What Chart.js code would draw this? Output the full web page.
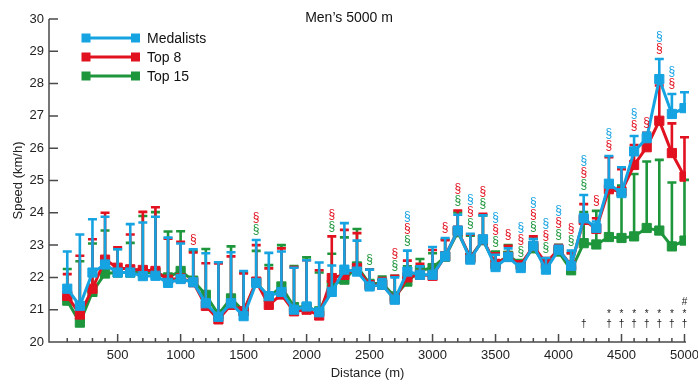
<!DOCTYPE html>
<html>
<head>
<meta charset="utf-8">
<title>Men's 5000 m</title>
<script src="https://cdn.jsdelivr.net/npm/chart.js@4"></script>
<style>
  html, body { margin: 0; padding: 0; background: #fff; }
</style>
</head>
<body>
<canvas id="speedChart" width="698" height="384"></canvas>
<script>
// split distances (m)
const distances = [100, 200, 300, 400, 500, 600, 700, 800, 900, 1000,
  1100, 1200, 1300, 1400, 1500, 1600, 1700, 1800, 1900, 2000,
  2100, 2200, 2300, 2400, 2500, 2600, 2700, 2800, 2900, 3000,
  3100, 3200, 3300, 3400, 3500, 3600, 3700, 3800, 3900, 4000,
  4100, 4200, 4300, 4400, 4500, 4600, 4700, 4800, 4900, 5000];

// mean speed (km/h) and mean + SD (top of the error bar)
const medalistsMean = [21.65, 21.12, 22.15, 22.4, 22.15, 22.15, 22.04, 22.05, 21.83, 21.95,
  21.85, 21.2, 20.78, 21.2, 20.8, 21.83, 21.42, 21.55, 21.0, 21.1,
  20.92, 21.55, 22.24, 22.18, 21.72, 21.77, 21.31, 22.18, 22.08, 22.08,
  22.65, 23.45, 22.55, 23.18, 22.32, 22.63, 22.29, 22.98, 22.24, 22.85,
  22.36, 23.83, 23.53, 24.9, 24.61, 25.9, 26.31, 28.14, 27.06, 27.24];
const medalistsUpper = [22.8, 23.33, 23.8, 23.88, 22.87, 23.65, 23.7, 23.88, 23.23, 23.05,
  22.87, 22.75, 22.47, 22.78, 22.2, 23.16, 22.76, 22.8, 22.3, 22.53,
  22.46, 22.37, 23.68, 23.14, 22.24, 21.95, 22.0, 22.83, 22.34, 22.94,
  23.22, 23.94, 23.35, 23.92, 22.7, 22.9, 22.42, 23.19, 22.6, 22.98,
  22.83, 24.55, 23.73, 25.76, 25.41, 26.38, 26.48, 28.76, 27.68, 27.73];

const top8Mean = [21.43, 20.85, 21.65, 22.55, 22.3, 22.25, 22.23, 22.2, 21.93, 21.97,
  21.85, 21.12, 20.7, 21.15, 20.95, 21.87, 21.15, 21.47, 20.95, 21.0,
  20.82, 21.98, 22.08, 22.29, 21.76, 21.77, 21.33, 22.0, 22.08, 22.05,
  22.66, 23.45, 22.6, 23.17, 22.42, 22.64, 22.38, 22.97, 22.44, 22.87,
  22.37, 23.78, 23.5, 24.73, 24.66, 25.48, 26.03, 26.85, 25.85, 25.12];
const top8Upper = [22.1, 22.67, 23.18, 24.0, 22.93, 23.33, 24.03, 24.17, 23.2, 23.1,
  22.77, 22.44, 22.43, 22.65, 22.12, 23.0, 22.28, 22.9, 22.32, 22.53,
  22.22, 23.27, 23.47, 23.37, 22.24, 21.98, 22.05, 22.52, 22.42, 22.85,
  23.15, 24.07, 23.33, 23.97, 22.75, 22.98, 22.45, 23.27, 22.6, 23.0,
  22.75, 24.27, 23.83, 25.72, 25.35, 26.1, 26.48, 27.94, 26.77, 26.34];

const top15Mean = [21.28, 20.6, 21.55, 22.12, 22.15, 22.15, 22.15, 22.15, 22.0, 22.2,
  21.9, 21.46, 20.85, 21.35, 20.95, 21.85, 21.38, 21.72, 21.08, 21.08,
  20.95, 21.77, 21.93, 22.34, 21.8, 21.82, 21.41, 21.87, 22.22, 22.29,
  22.64, 23.4, 22.62, 23.15, 22.4, 22.67, 22.42, 22.9, 22.4, 22.8,
  22.22, 23.06, 23.02, 23.25, 23.22, 23.27, 23.53, 23.45, 22.96, 23.14];
const top15Upper = [22.26, 22.5, 23.05, 23.45, 22.88, 23.07, 23.9, 24.02, 23.42, 23.43,
  22.82, 22.88, 22.46, 22.96, 22.15, 22.82, 22.38, 23.0, 22.35, 22.62,
  22.15, 22.73, 23.24, 23.5, 22.25, 22.03, 22.05, 22.34, 22.57, 22.75,
  23.18, 24.01, 23.29, 23.92, 22.8, 23.0, 22.49, 23.2, 22.58, 23.01,
  22.75, 24.02, 24.06, 24.92, 24.84, 25.2, 25.59, 25.64, 24.94, 25.02];

// distances flagged with § for each group
const medalistsSig = [2800, 3300, 3500, 3700, 3800, 3900, 4000, 4200, 4400, 4600, 4800, 4900];
const top8Sig = [1100, 1600, 2200, 2700, 2800, 3100, 3200, 3300, 3400, 3500, 3600, 3700,
  3800, 3900, 4000, 4100, 4200, 4300, 4400, 4600, 4700, 4800, 4900];
const top15Sig = [1600, 2200, 2500, 2700, 2800, 3200, 3300, 3400, 3500, 3700, 3800, 3900,
  4000, 4100, 4200];

// symbols along the bottom
const daggerAt = [4200, 4400, 4500, 4600, 4700, 4800, 4900, 5000];
const starAt = [4400, 4500, 4600, 4700, 4800, 4900, 5000];
const hashAt = [5000];

const xTicks = [500, 1000, 1500, 2000, 2500, 3000, 3500, 4000, 4500, 5000];

const FONT = '"Liberation Sans", Arial, Helvetica, sans-serif';

const series = [
  { label: 'Medalists', mean: medalistsMean, upper: medalistsUpper, sig: medalistsSig, color: '#16a3e2' },
  { label: 'Top 8', mean: top8Mean, upper: top8Upper, sig: top8Sig, color: '#e21120' },
  { label: 'Top 15', mean: top15Mean, upper: top15Upper, sig: top15Sig, color: '#1e963c' }
];

// error bars drawn just under each group's own line
const errorBars = {
  id: 'errorBars',
  beforeDatasetDraw(chart, args) {
    const s = series[args.index];
    const { ctx, scales: { x, y } } = chart;
    ctx.save();
    ctx.strokeStyle = s.color;
    ctx.lineWidth = 2.6;
    distances.forEach((d, i) => {
      const px = x.getPixelForValue(d);
      const y0 = y.getPixelForValue(s.mean[i]);
      const y1 = y.getPixelForValue(s.upper[i]);
      ctx.beginPath();
      ctx.moveTo(px, y0);
      ctx.lineTo(px, y1);
      ctx.moveTo(px - 4.5, y1);
      ctx.lineTo(px + 4.5, y1);
      ctx.stroke();
    });
    ctx.restore();
  }
};

const decorations = {
  id: 'decorations',
  afterDraw(chart) {
    const { ctx, chartArea: area, scales: { x, y } } = chart;
    ctx.save();

    // axes and inward ticks
    ctx.strokeStyle = '#4a4a4a';
    ctx.lineWidth = 1.5;
    ctx.beginPath();
    ctx.moveTo(area.left, area.top);
    ctx.lineTo(area.left, area.bottom);
    ctx.lineTo(area.right, area.bottom);
    for (let v = 21; v <= 30; v++) {
      const py = y.getPixelForValue(v);
      ctx.moveTo(area.left, py);
      ctx.lineTo(area.left + 9, py);
    }
    distances.forEach(d => {
      const px = x.getPixelForValue(d);
      const len = d % 500 === 0 ? 8 : 4;
      ctx.moveTo(px, area.bottom);
      ctx.lineTo(px, area.bottom - len);
    });
    ctx.stroke();

    // title
    ctx.fillStyle = '#111';
    ctx.font = '14px ' + FONT;
    ctx.textAlign = 'center';
    ctx.textBaseline = 'middle';
    ctx.fillText("Men\u2019s 5000 m", chart.width / 2, 18);

    // legend
    ctx.font = '14px ' + FONT;
    ctx.textAlign = 'left';
    series.forEach((s, i) => {
      const ly = 38 + i * 19;
      ctx.strokeStyle = s.color;
      ctx.fillStyle = s.color;
      ctx.lineWidth = 3;
      ctx.beginPath();
      ctx.moveTo(85, ly);
      ctx.lineTo(136, ly);
      ctx.stroke();
      ctx.fillRect(81.5, ly - 4.5, 9, 9);
      ctx.fillRect(131, ly - 4.5, 9, 9);
      ctx.fillStyle = '#111';
      ctx.fillText(s.label, 147, ly + 1);
    });

    // § marks stacked above the highest bar
    ctx.font = '12px ' + FONT;
    ctx.textAlign = 'center';
    distances.forEach((d, i) => {
      const flagged = [2, 1, 0].filter(k => series[k].sig.includes(d));
      if (!flagged.length) return;
      const top = Math.max(...series.map(s => s.upper[i]));
      const px = x.getPixelForValue(d);
      let py = y.getPixelForValue(top) - 10;
      flagged.forEach(k => {
        ctx.fillStyle = series[k].color;
        ctx.fillText('\u00a7', px, py);
        py -= 12;
      });
    });

    // symbols along the bottom
    ctx.fillStyle = '#222';
    ctx.font = '10px ' + FONT;
    daggerAt.forEach(d => ctx.fillText('\u2020', x.getPixelForValue(d), area.bottom - 18));
    starAt.forEach(d => ctx.fillText('*', x.getPixelForValue(d), area.bottom - 28));
    hashAt.forEach(d => ctx.fillText('#', x.getPixelForValue(d), area.bottom - 40));

    ctx.restore();
  }
};

new Chart(document.getElementById('speedChart'), {
  type: 'line',
  data: {
    datasets: series.map(s => ({
      label: s.label,
      data: distances.map((d, i) => ({ x: d, y: s.mean[i] })),
      borderColor: s.color,
      backgroundColor: s.color,
      borderWidth: 3,
      pointStyle: 'rect',
      pointRadius: 6.5,
      pointBorderWidth: 1,
      tension: 0,
      fill: false
    }))
  },
  options: {
    responsive: false,
    animation: false,
    events: [],
    layout: { padding: { top: 19, right: 12, left: 0, bottom: 0 } },
    plugins: {
      legend: { display: false },
      title: { display: false },
      tooltip: { enabled: false }
    },
    scales: {
      x: {
        type: 'linear',
        min: -45,
        max: 5012,
        grid: { display: false, drawTicks: false },
        border: { display: false },
        afterBuildTicks: scale => { scale.ticks = xTicks.map(v => ({ value: v })); },
        afterFit: scale => {
          scale.height = 42;
          scale.paddingLeft = 0;
          scale.paddingRight = 0;
        },
        ticks: {
          padding: 6, color: '#222', font: { family: FONT, size: 13 }, maxRotation: 0, autoSkip: false,
          callback: v => String(v)
        },
        title: { display: true, text: 'Distance (m)', color: '#222', font: { family: FONT, size: 13 }, padding: { top: 0, bottom: 3 } }
      },
      y: {
        min: 20,
        max: 30,
        grid: { display: false, drawTicks: false },
        border: { display: false },
        afterFit: scale => {
          scale.width = 49;
          scale.paddingTop = 0;
          scale.paddingBottom = 0;
        },
        ticks: { stepSize: 1, padding: 5, color: '#222', font: { family: FONT, size: 13 } },
        title: { display: true, text: 'Speed (km/h)', color: '#222', font: { family: FONT, size: 13 }, padding: { top: 11, bottom: 0 } }
      }
    }
  },
  plugins: [errorBars, decorations]
});
</script>
</body>
</html>
